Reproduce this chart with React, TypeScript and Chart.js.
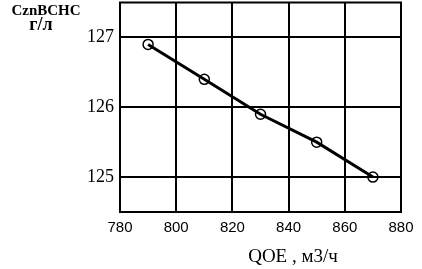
import React, { useEffect, useRef } from "react";
import { Chart, registerables } from "chart.js";

Chart.register(...registerables);

const flowRates = [790, 810, 830, 850, 870];
const concentrations = [126.9, 126.4, 125.9, 125.5, 125.0];
const yTickValues = [125, 126, 127];
const xTickValues = [780, 800, 820, 840, 860, 880];
const yTitleLines = ["CznBCHC", "г/л"];
const xTitle = "QOE , м3/ч";

const SHIFT = 4; // canvas is placed SHIFT px above the page top

const titlePlugin = {
  id: "cornerTitle",
  afterDraw(chart: any) {
    const ctx = chart.ctx;
    const a = chart.chartArea;
    ctx.save();
    ctx.strokeStyle = "#000";
    ctx.lineWidth = 2;
    ctx.strokeRect(a.left, a.top, a.right - a.left, a.bottom - a.top);
    ctx.fillStyle = "#000";
    ctx.textAlign = "center";
    ctx.textBaseline = "alphabetic";
    ctx.font = "bold 15px 'Liberation Serif'";
    ctx.fillText(yTitleLines[0], 46, 15 + SHIFT);
    ctx.font = "bold 18px 'Liberation Serif'";
    ctx.fillText(yTitleLines[1], 41, 30 + SHIFT);
    ctx.font = "19px 'Liberation Serif'";
    ctx.fillText(xTitle, 293, 262 + SHIFT);
    ctx.restore();
  },
};

export default function App() {
  const ref = useRef<HTMLCanvasElement>(null);
  useEffect(() => {
    if (!ref.current) return;
    const chart = new Chart(ref.current, {
      type: "scatter",
      data: {
        datasets: [
          {
            data: flowRates.map((x, i) => ({ x, y: concentrations[i] })),
            showLine: true,
            borderColor: "#000",
            borderWidth: 3,
            pointRadius: 5,
            pointBorderWidth: 1.5,
            pointBorderColor: "#000",
            pointBackgroundColor: "rgba(0,0,0,0)",
          },
        ],
      },
      options: {
        animation: false,
        responsive: false,
        layout: { padding: { top: 0, right: 21, left: 0, bottom: 0 } },
        plugins: { legend: { display: false }, tooltip: { enabled: false } },
        scales: {
          x: {
            type: "linear",
            min: 780,
            max: 880,
            afterBuildTicks: (s: any) => {
              s.ticks = xTickValues.map((v) => ({ value: v }));
            },
            afterFit: (s: any) => {
              s.height = 57;
              s.paddingLeft = 0;
              s.paddingRight = 0;
            },
            grid: { color: "#000", lineWidth: 2, drawTicks: false },
            border: { color: "#000", width: 2 },
            ticks: {
              color: "#000",
              padding: 7,
              font: { family: "'Liberation Sans'", size: 15 },
            },
          },
          y: {
            type: "linear",
            min: 124.5,
            max: 127.5,
            afterBuildTicks: (s: any) => {
              s.ticks = yTickValues.map((v) => ({ value: v }));
            },
            afterFit: (s: any) => {
              s.width = 120;
              s.paddingTop = 0;
              s.paddingBottom = 0;
            },
            grid: { color: "#000", lineWidth: 2, drawTicks: false },
            border: { color: "#000", width: 2 },
            ticks: {
              color: "#000",
              padding: 6,
              font: { family: "'Liberation Serif'", size: 18 },
            },
          },
        },
      },
      plugins: [titlePlugin],
    } as any);
    return () => chart.destroy();
  }, []);
  return (
    <div style={{ position: "fixed", left: 0, top: -SHIFT, width: 422, height: 269 + SHIFT, background: "#fff" }}>
      <canvas ref={ref} width={422} height={269 + SHIFT} />
    </div>
  );
}
